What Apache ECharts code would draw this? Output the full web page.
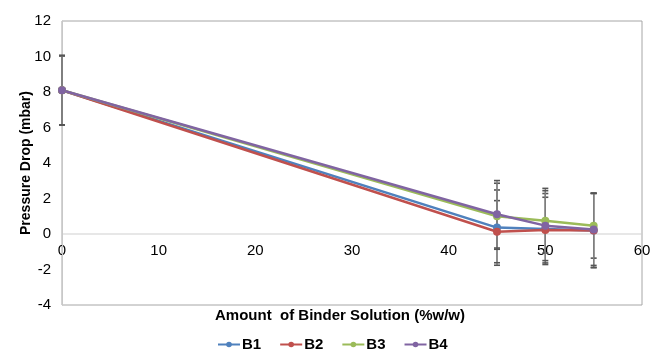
<!DOCTYPE html>
<html><head><meta charset="utf-8">
<script src="https://cdn.jsdelivr.net/npm/echarts@6/dist/echarts.min.js"></script>
<style>html,body{margin:0;padding:0;background:#fff}#c{width:656px;height:352px}</style>
</head><body><div id="c"></div>
<script>
var xValues = [0, 45, 50, 55];
var seriesNames = ['B1', 'B2', 'B3', 'B4'];
var b1 = [8.1, 0.36, 0.28, 0.20];
var b2 = [8.1, 0.13, 0.22, 0.20];
var b3 = [8.1, 1.00, 0.75, 0.47];
var b4 = [8.1, 1.11, 0.47, 0.26];
var errB1 = [1.95, 2.12, 2.00, 2.10];
var errB2 = [1.95, 1.75, 1.85, 2.08];
var errB3 = [1.95, 1.86, 1.82, 1.83];
var errB4 = [1.95, 1.90, 1.97, 2.03];
var colors = ['#4F81BD', '#C0504D', '#9BBB59', '#8064A2'];
var yTicks = [-4, -2, 0, 2, 4, 6, 8, 10, 12];
var xTicks = [0, 10, 20, 30, 40, 50, 60];

var values = [b1, b2, b3, b4];
var errs = [errB1, errB2, errB3, errB4];
var font = 'Liberation Sans, Arial, sans-serif';

var series = [];
// zero line + x tick labels drawn at y = 0 (axis crossing at zero)
series.push({
  type: 'custom', name: 'xlabels', z: 0, silent: true,
  data: xTicks.map(function (x) { return [x, 0]; }),
  renderItem: function (params, api) {
    var p = api.coord([api.value(0), 0]);
    var children = [{
      type: 'text', x: p[0], y: p[1] + 9,
      style: { text: String(api.value(0)), font: '15px ' + font, fill: '#000', align: 'center', verticalAlign: 'top' }
    }];
    if (params.dataIndex === 0) {
      var e = api.coord([60, 0]);
      children.push({ type: 'line', shape: { x1: p[0], y1: p[1], x2: e[0], y2: e[1] }, style: { stroke: '#cfcfcf', lineWidth: 1.2 } });
    }
    return { type: 'group', children: children };
  }
});
values.forEach(function (vals, i) {
  var errData = xValues.map(function (x, k) { return [x, vals[k] - errs[i][k], vals[k] + errs[i][k]]; });
  series.push({
    type: 'custom', name: seriesNames[i] + ' err', z: 1, silent: true,
    data: errData,
    renderItem: function (params, api) {
      var x = api.value(0);
      var lo = api.coord([x, api.value(1)]);
      var hi = api.coord([x, api.value(2)]);
      var w = 3;
      return {
        type: 'group', children: [
          { type: 'line', shape: { x1: lo[0], y1: lo[1], x2: hi[0], y2: hi[1] }, style: { stroke: '#7f7f7f', lineWidth: 1.3 } },
          { type: 'line', shape: { x1: lo[0] - w, y1: lo[1], x2: lo[0] + w, y2: lo[1] }, style: { stroke: '#555', lineWidth: 1.6 } },
          { type: 'line', shape: { x1: hi[0] - w, y1: hi[1], x2: hi[0] + w, y2: hi[1] }, style: { stroke: '#555', lineWidth: 1.6 } }
        ]
      };
    }
  });
});
values.forEach(function (vals, i) {
  series.push({
    type: 'line', name: seriesNames[i], z: 3,
    data: xValues.map(function (x, k) { return [x, vals[k]]; }),
    symbol: 'circle', symbolSize: 8, showSymbol: true,
    lineStyle: { width: 2.5, color: colors[i] },
    itemStyle: { color: colors[i] }
  });
});

var chart = echarts.init(document.getElementById('c'), null, { renderer: 'canvas' });
chart.setOption({
  animation: false,
  color: colors,
  grid: { left: 62, right: 14, top: 21, bottom: 47, show: true, borderColor: '#a6a6a6', borderWidth: 1 },
  legend: {
    data: seriesNames, left: 212, top: 332, itemWidth: 22, itemHeight: 7, itemGap: 18,
    textStyle: { fontFamily: font, fontSize: 15, fontWeight: 'bold', color: '#000', padding: [0, 0, 0, -3] }
  },
  graphic: [{
    type: 'text', left: 215, top: 308,
    style: { text: 'Amount  of Binder Solution (%w/w)', font: 'bold 15px ' + font, fill: '#000' }
  }],
  xAxis: {
    type: 'value', min: 0, max: 60, interval: 10,
    axisLine: { show: false }, axisTick: { show: false }, splitLine: { show: false },
    axisLabel: { show: false }
  },
  yAxis: {
    type: 'value', min: -4, max: 12, interval: 2,
    name: 'Pressure Drop (mbar)', nameLocation: 'middle', nameGap: 29, nameRotate: 90,
    nameMoveOverlap: false,
    nameTextStyle: { fontFamily: font, fontSize: 14, fontWeight: 'bold', color: '#000' },
    axisLine: { show: true, onZero: false, lineStyle: { color: '#c8c8c8', width: 1 } },
    axisTick: { show: false }, splitLine: { show: false },
    axisLabel: { fontFamily: font, fontSize: 15, color: '#000', margin: 11 }
  },
  series: series
});
</script></body></html>
